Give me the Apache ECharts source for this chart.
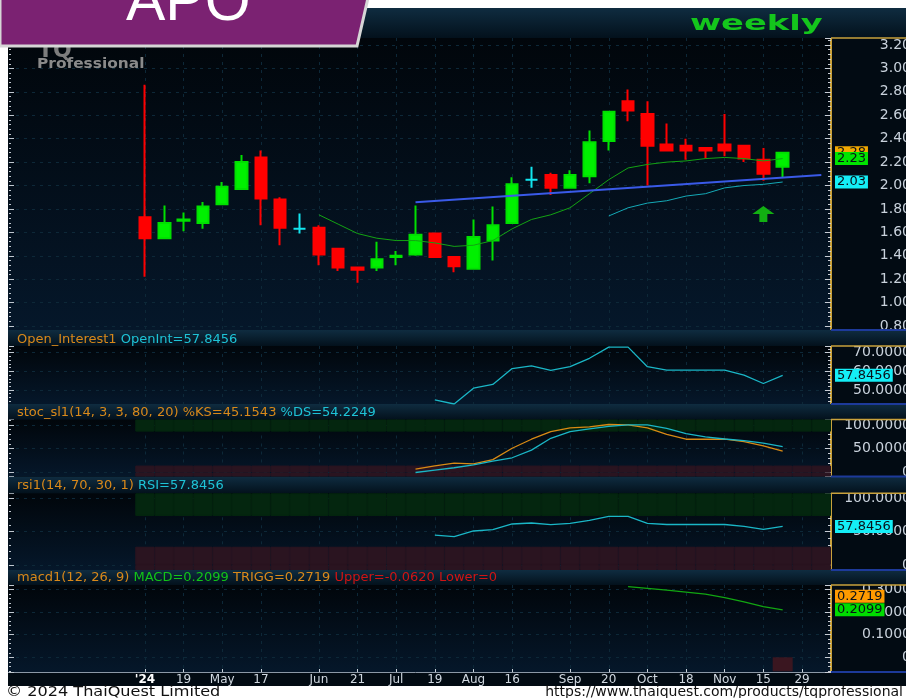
<!DOCTYPE html>
<html lang="en">
<head>
<meta charset="UTF-8">
<title>APO weekly</title>
<style>
  html, body { margin: 0; padding: 0; background: #fff; }
  #main { width: 906px; height: 698px; }
</style>
</head>
<body>
<div id="main"></div>
<script src="https://cdn.jsdelivr.net/npm/echarts@6/dist/echarts.min.js"></script>
<script>
  // x axis: 7 empty weeks before the first bar and 2 after the last one
  const xLabels = ['', '', '', '', '', '', '', "'24", '', '19', '', 'May', '', '17', '', '', 'Jun', '', '21', '',
    'Jul', '', '19', '', 'Aug', '', '16', '', '', 'Sep', '', '20', '', 'Oct', '', '18', '', 'Nov', '', '15', '', '29', ''];
  const lead = 7;

  // weekly candles
  const opens  = [1.73, 1.55, 1.70, 1.68, 1.84, 1.97, 2.24, 1.88, 1.63, 1.64, 1.46, 1.30, 1.30, 1.39, 1.41, 1.59, 1.39,
    1.29, 1.53, 1.68, 2.05, 2.09, 1.98, 2.08, 2.38, 2.72, 2.61, 2.35, 2.34, 2.32, 2.35, 2.34, 2.22, 2.16];
  const closes = [1.55, 1.68, 1.71, 1.82, 1.99, 2.20, 1.89, 1.64, 1.63, 1.41, 1.30, 1.28, 1.37, 1.40, 1.58, 1.39, 1.31,
    1.56, 1.66, 2.01, 2.05, 1.98, 2.09, 2.37, 2.63, 2.64, 2.34, 2.30, 2.30, 2.30, 2.30, 2.23, 2.10, 2.28];
  const lows   = [1.22, 1.55, 1.61, 1.63, 1.84, 1.97, 1.66, 1.49, 1.59, 1.32, 1.27, 1.17, 1.27, 1.32, 1.40, 1.39, 1.26,
    1.29, 1.36, 1.68, 1.98, 1.92, 1.98, 2.02, 2.30, 2.55, 2.00, 2.30, 2.22, 2.23, 2.25, 2.20, 2.04, 2.07];
  const highs  = [2.86, 1.83, 1.77, 1.86, 2.03, 2.26, 2.30, 1.90, 1.76, 1.66, 1.46, 1.30, 1.52, 1.44, 1.83, 1.59, 1.39,
    1.71, 1.82, 2.07, 2.16, 2.11, 2.13, 2.47, 2.63, 2.82, 2.72, 2.53, 2.40, 2.32, 2.61, 2.34, 2.32, 2.28];
  const dojiWeeks = [8, 20];

  // moving averages (first week index, values)
  const maGreenStart = 9;
  const maGreen = [1.75, 1.67, 1.59, 1.55, 1.53, 1.53, 1.51, 1.48, 1.49, 1.53, 1.63, 1.71, 1.75, 1.81, 1.93, 2.05,
    2.15, 2.18, 2.20, 2.21, 2.23, 2.24, 2.23, 2.21, 2.23];
  const maCyanStart = 24;
  const maCyan = [1.74, 1.81, 1.85, 1.87, 1.91, 1.93, 1.98, 2.00, 2.01, 2.03];

  // trend line [week, price]
  const trendLine = [[14, 1.857], [35, 2.09]];
  const signal = [32, 1.757];

  // open interest / rsi
  const rsiStart = 15;
  const openInt = [44.7, 42.5, 51, 53, 61.5, 63, 60.5, 62.5, 67, 73, 73, 62.5, 60.7, 60.7, 60.7, 60.7, 58, 53.5, 57.8456];
  const rsi = [44.7, 42.5, 51, 53, 61.5, 63, 60.5, 62.5, 67, 73, 73, 62.5, 60.7, 60.7, 60.7, 60.7, 58, 53.5, 57.8456];

  // stochastic
  const stochStart = 14;
  const stochK = [7, 14, 19.7, 18, 27, 51, 70, 86, 94, 96, 101, 100, 94, 80, 70, 70, 70, 65, 56, 45.1543];
  const stochD = [0, 5, 10, 16, 24, 31, 47, 72, 86, 92, 97, 100, 100, 93, 82, 75, 70.5, 67, 62, 54.2249];

  // overbought / oversold zones as drawn [lower edge of green, upper edge of red]
  const stochZones = [86, 14.6];
  const rsiZones = [73.5, 27.4];

  // macd
  const macdStart = 25;
  const macd = [0.312, 0.305, 0.297, 0.288, 0.279, 0.264, 0.245, 0.224, 0.2099];
  const macdTrigger = 0.2719;
  const macdHist = [[33, -0.062]];

  const cats = xLabels.map((_, i) => String(i));
  const labelled = (i) => xLabels[i] !== '';
  const pts = (start, arr) => arr.map((v, i) => [lead + start + i, v]);

  const candleData = opens.map((o, i) => {
    const item = { value: [lead + i, o, closes[i], lows[i], highs[i]] };
    if (dojiWeeks.includes(i)) {
      item.itemStyle = { color: '#12e6f0', color0: '#12e6f0', borderColor: '#12e6f0', borderColor0: '#12e6f0' };
    }
    return item;
  });

  const grids = [
    { top: 38, height: 292 },
    { top: 346, height: 58 },
    { top: 419.5, height: 57 },
    { top: 493.3, height: 76.7 },
    { top: 585, height: 87 }
  ];
  const ranges = [[0.766, 3.26, 12, 0.2], [42.5, 73.6, 3, 10], [-8.4, 111.5, 2, 50], [-7.5, 107.5, 2, 50], [-0.065, 0.3195, 4, 0.1]];

  const isStep = (v, step) => Math.abs(v / step - Math.round(v / step)) < 1e-6;
  const fmt = (idx) => (v) => {
    const step = ranges[idx][3];
    if (!isStep(v, step)) return '';
    if (idx === 0) return v.toFixed(2);
    return Math.abs(v) < 1e-9 ? '0' : v.toFixed(4);
  };

  const gridOpts = grids.map(g => ({
    left: 0, width: 831, top: g.top, height: g.height, show: true, borderWidth: 0,
    containLabel: false, outerBoundsMode: 'none',
    backgroundColor: new echarts.graphic.LinearGradient(0, 0, 0, 1, [
      { offset: 0, color: '#01060b' }, { offset: 1, color: '#05172a' }
    ])
  }));

  const gridLine = { color: '#0d2838', type: [3, 5], width: 1 };

  const xAxes = grids.map((g, i) => ({
    type: 'category', gridIndex: i, data: cats, boundaryGap: true,
    axisLine: { show: i === 4, onZero: false, lineStyle: { color: '#8c98a6' } },
    axisTick: { show: i === 4, inside: true, alignWithLabel: true, interval: labelled, length: 3, lineStyle: { color: '#c8d0d8' } },
    axisLabel: {
      show: i === 4, interval: 0, margin: 2, color: '#d0d8e0', fontSize: 12, fontFamily: 'DejaVu Sans',
      formatter: (v, k) => k === lead ? '{b|' + xLabels[k] + '}' : xLabels[k],
      rich: { b: { fontWeight: 'bold', color: '#ffffff', fontSize: 12, fontFamily: 'DejaVu Sans' } }
    },
    splitLine: { show: true, interval: labelled, alignWithLabel: true, lineStyle: gridLine }
  }));

  const yAxes = [];
  grids.forEach((g, i) => {
    const [min, max, split] = ranges[i];
    yAxes.push({
      type: 'value', gridIndex: i, position: 'right', min, max, splitNumber: split,
      axisLine: { show: true, lineStyle: { color: '#c9a23c', width: 2 } },
      axisTick: { show: true, inside: true, length: 6, lineStyle: { color: '#c8ccd4' } },
      minorTick: { show: true, splitNumber: 5, length: 3, lineStyle: { color: '#c8ccd4' } },
      axisLabel: {
        show: true, margin: 80, align: 'right', color: '#c9d2dc', fontSize: 14, fontFamily: 'DejaVu Sans',
        formatter: fmt(i), showMinLabel: false, showMaxLabel: false
      },
      splitLine: { show: true, showMinLine: false, showMaxLine: false, lineStyle: gridLine }
    });
    yAxes.push({
      type: 'value', gridIndex: i, position: 'left', offset: -9, min, max, splitNumber: split,
      axisLine: { show: false },
      axisTick: { show: true, inside: true, length: 5, lineStyle: { color: '#c0c8d0' } },
      minorTick: { show: true, splitNumber: 5, length: 2, lineStyle: { color: '#c0c8d0' } },
      axisLabel: { show: false },
      splitLine: { show: false }
    });
  });

  const tag = (value, text, bg) => ({
    silent: true, symbol: ['none', 'none'], animation: false,
    lineStyle: { color: 'transparent', width: 0 },
    label: {
      show: true, position: 'end', distance: 4, formatter: text, backgroundColor: bg, color: '#0a1018',
      fontSize: 13, fontFamily: 'DejaVu Sans', padding: [0, 2, 0, 2]
    },
    data: [{ yAxis: value }]
  });

  // zone bands drawn as full-width stacked bars from the first week to the last slot
  const bandWeeks = cats.slice(lead).map(Number);
  const bands = (gi, zones) => {
    const [min, max] = ranges[gi];
    const base = { type: 'bar', xAxisIndex: gi, yAxisIndex: gi * 2, silent: true, barCategoryGap: '0%', barGap: '-100%' };
    const green = { color: '#04260f', borderColor: '#04260f', borderWidth: 1 };
    const red = { color: '#2a1420', borderColor: '#2a1420', borderWidth: 1 };
    return [
      { ...base, stack: 'g' + gi, itemStyle: { color: 'transparent' }, data: bandWeeks.map(k => [k, zones[0]]) },
      { ...base, stack: 'g' + gi, itemStyle: green, data: bandWeeks.map(k => [k, max - zones[0]]) },
      { ...base, stack: 'r' + gi, itemStyle: red, data: bandWeeks.map(k => [k, zones[1]]) },
      { ...base, stack: 'r' + gi, itemStyle: red, data: bandWeeks.map(k => [k, min]) }
    ];
  };

  const lastClose = closes[closes.length - 1];
  const lastGreen = maGreen[maGreen.length - 1];
  const lastCyan = maCyan[maCyan.length - 1];
  const lastOI = openInt[openInt.length - 1];
  const lastRsi = rsi[rsi.length - 1];
  const lastMacd = macd[macd.length - 1];

  const header = (left, top, text) => ({ left, top, padding: 0, text, textStyle: {
    fontSize: 13, fontFamily: 'DejaVu Sans', fontWeight: 'normal',
    rich: {
      o: { color: '#d9891a', fontSize: 13, fontFamily: 'DejaVu Sans' },
      c: { color: '#1ec3d6', fontSize: 13, fontFamily: 'DejaVu Sans' },
      g: { color: '#12c418', fontSize: 13, fontFamily: 'DejaVu Sans' },
      r: { color: '#d01414', fontSize: 13, fontFamily: 'DejaVu Sans' }
    }
  }});

  const headGrad = new echarts.graphic.LinearGradient(0, 0, 0, 1, [
    { offset: 0, color: '#0f2c40' }, { offset: 1, color: '#03111c' }
  ]);
  const strips = [[8, 30], [330, 16], [404, 15.5], [476.7, 16.6], [570, 15]];

  const option = {
    animation: false,
    backgroundColor: '#020b13',
    title: [
      header(17, 333, '{o|Open_Interest1 }{c|OpenInt=' + lastOI.toFixed(4) + '}'),
      header(17, 406, '{o|stoc_sl1(14, 3, 3, 80, 20) %KS=' + stochK[stochK.length - 1].toFixed(4) + ' }{c|%DS=' + stochD[stochD.length - 1].toFixed(4) + '}'),
      header(17, 479, '{o|rsi1(14, 70, 30, 1) }{c|RSI=' + lastRsi.toFixed(4) + '}'),
      header(17, 571, '{o|macd1(12, 26, 9) }{g|MACD=' + lastMacd.toFixed(4) + ' }{o|TRIGG=' + macdTrigger.toFixed(4) + ' }{r|Upper=' + macdHist[0][1].toFixed(4) + ' Lower=0}'),
      { right: 3, top: 685, padding: 0, text: 'https://www.thaiquest.com/products/tqprofessional', textStyle: { color: '#111', fontSize: 14, fontWeight: 'normal', fontFamily: 'DejaVu Sans' } }
    ],
    grid: gridOpts,
    xAxis: xAxes,
    yAxis: yAxes,
    graphic: [
      { type: 'rect', shape: { x: 0, y: 0, width: 906, height: 8 }, style: { fill: '#ffffff' }, z: 1 },
      { type: 'rect', shape: { x: 0, y: 0, width: 8, height: 686 }, style: { fill: '#ffffff' }, z: 1 },
      { type: 'rect', shape: { x: 0, y: 686, width: 906, height: 12 }, style: { fill: '#ffffff' }, z: 1 },
      ...strips.map(s => ({ type: 'rect', shape: { x: 8, y: s[0], width: 898, height: s[1] }, style: { fill: headGrad }, z: 1 })),
      ...grids.map(g => ({ type: 'line', shape: { x1: 831, y1: g.top, x2: 906, y2: g.top }, style: { stroke: '#c9a23c', lineWidth: 1.5 }, z: 3 })),
      ...grids.map(g => ({ type: 'line', shape: { x1: 831, y1: g.top + g.height, x2: 906, y2: g.top + g.height }, style: { stroke: '#1d3a9a', lineWidth: 2 }, z: 3 })),
      { type: 'text', x: 690, y: 13, scaleX: 1.53, z: 5, style: { text: 'weekly', fill: '#14c61c', font: 'bold 22px "DejaVu Sans"' } },
      { type: 'text', left: 38, top: 40, z: 5, style: { text: 'TQ', fill: '#7d7d7d', font: 'bold 22px "DejaVu Sans"' } },
      { type: 'text', x: 37, y: 57, scaleX: 1.1, z: 5, style: { text: 'Professional', fill: '#8a8a8a', font: 'bold 14px "DejaVu Sans"' } },
      { type: 'text', x: 6, y: 685, scaleX: 1.15, z: 5, style: { text: '\u00a9 2024 ThaiQuest Limited', fill: '#111', font: '14px "DejaVu Sans"' } },
      { type: 'polygon', z: 20, shape: { points: [[0, -2], [368, -2], [357, 46], [0, 46]] }, style: { fill: '#7b2272', stroke: '#d6d6d6', lineWidth: 3 } },
      { type: 'text', z: 21, left: 126, top: -26, style: { text: 'APO', fill: '#ffffff', font: '59px "Liberation Sans"' } }
    ],
    series: [
      ...bands(2, stochZones),
      ...bands(3, rsiZones),
      {
        type: 'candlestick', xAxisIndex: 0, yAxisIndex: 0, barWidth: 12,
        encode: { x: 0, y: [1, 2, 3, 4] },
        itemStyle: { color: '#00f000', color0: '#ff0000', borderColor: '#00e000', borderColor0: '#ff0000', borderWidth: 2 },
        data: candleData,
        markPoint: {
          silent: true,
          data: [{
            coord: [String(lead + signal[0]), signal[1]],
            symbol: 'path://M11,0 L22,8 L15,8 L15,16 L7,16 L7,8 L0,8 Z', symbolSize: [22, 16],
            itemStyle: { color: '#12b012' }, label: { show: false }
          }]
        },
        markLine: tag(lastClose, lastClose.toFixed(2), '#f2a900')
      },
      { type: 'line', xAxisIndex: 0, yAxisIndex: 0, data: pts(maGreenStart, maGreen), symbol: 'none',
        lineStyle: { color: '#13a313', width: 1 }, markLine: tag(lastGreen, lastGreen.toFixed(2), '#00e400') },
      { type: 'line', xAxisIndex: 0, yAxisIndex: 0, data: pts(maCyanStart, maCyan), symbol: 'none',
        lineStyle: { color: '#14a9b6', width: 1 }, markLine: tag(lastCyan, lastCyan.toFixed(2), '#14eef6') },
      { type: 'line', xAxisIndex: 0, yAxisIndex: 0, data: trendLine.map(p => [lead + p[0], p[1]]), symbol: 'none',
        lineStyle: { color: '#3a5ae8', width: 2 } },
      { type: 'line', xAxisIndex: 1, yAxisIndex: 2, data: pts(rsiStart, openInt), symbol: 'none',
        lineStyle: { color: '#1ab6c6', width: 1.3 }, markLine: tag(lastOI, lastOI.toFixed(4), '#14eef6') },
      { type: 'line', xAxisIndex: 2, yAxisIndex: 4, data: pts(stochStart, stochK), symbol: 'none',
        lineStyle: { color: '#d88a14', width: 1.3 } },
      { type: 'line', xAxisIndex: 2, yAxisIndex: 4, data: pts(stochStart, stochD), symbol: 'none',
        lineStyle: { color: '#1ab6c6', width: 1.3 } },
      { type: 'line', xAxisIndex: 3, yAxisIndex: 6, data: pts(rsiStart, rsi), symbol: 'none',
        lineStyle: { color: '#1ab6c6', width: 1.3 }, markLine: tag(lastRsi, lastRsi.toFixed(4), '#14eef6') },
      { type: 'bar', xAxisIndex: 4, yAxisIndex: 8, data: macdHist.map(p => [lead + p[0], p[1]]), barWidth: 20,
        itemStyle: { color: '#3a1620' } },
      { type: 'line', xAxisIndex: 4, yAxisIndex: 8, data: pts(macdStart, macd), symbol: 'none',
        lineStyle: { color: '#12a612', width: 1.3 },
        markLine: {
          silent: true, symbol: ['none', 'none'], lineStyle: { color: 'transparent', width: 0 },
          label: { show: true, position: 'end', distance: 4, color: '#0a1018', fontSize: 13, fontFamily: 'DejaVu Sans', padding: [0, 2, 0, 2] },
          data: [
            { yAxis: macdTrigger, label: { formatter: macdTrigger.toFixed(4), backgroundColor: '#ff9a00' } },
            { yAxis: lastMacd, label: { formatter: lastMacd.toFixed(4), backgroundColor: '#00dc00' } }
          ]
        } }
    ]
  };

  const chart = echarts.init(document.getElementById('main'));
  chart.setOption(option);
</script>
</body>
</html>
